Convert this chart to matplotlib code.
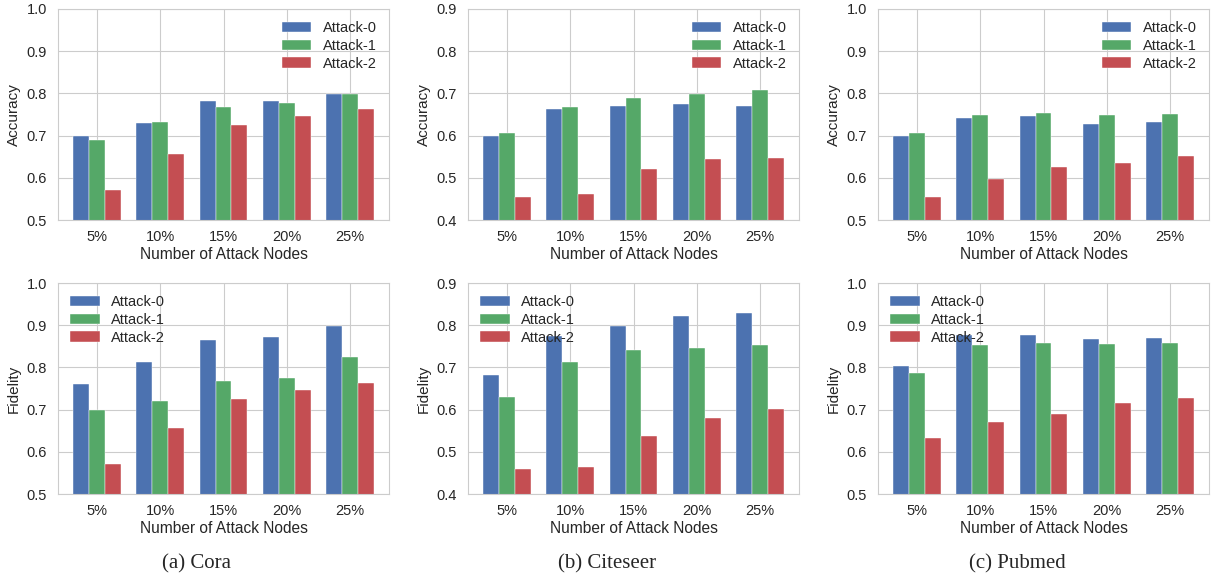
"""Accuracy / fidelity of the three attacks vs. number of attack nodes."""

import matplotlib

matplotlib.use("Agg")
import matplotlib.pyplot as plt
import numpy as np
import seaborn as sns

sns.set_style("whitegrid")
plt.rcParams["font.family"] = ["Liberation Sans", "DejaVu Sans"]

NODES = ["5%", "10%", "15%", "20%", "25%"]
ATTACKS = ["Attack-0", "Attack-1", "Attack-2"]
COLORS = ["#4C72B0", "#55A868", "#C44E52"]

cora_acc = [
    [0.700, 0.731, 0.781, 0.782, 0.799],
    [0.690, 0.733, 0.768, 0.777, 0.798],
    [0.571, 0.657, 0.724, 0.746, 0.762],
]
citeseer_acc = [
    [0.599, 0.663, 0.671, 0.674, 0.669],
    [0.606, 0.668, 0.688, 0.699, 0.707],
    [0.455, 0.461, 0.521, 0.545, 0.547],
]
pubmed_acc = [
    [0.700, 0.741, 0.746, 0.727, 0.732],
    [0.705, 0.749, 0.754, 0.748, 0.751],
    [0.554, 0.597, 0.626, 0.635, 0.652],
]
cora_fid = [
    [0.760, 0.813, 0.865, 0.873, 0.897],
    [0.698, 0.721, 0.768, 0.776, 0.825],
    [0.571, 0.657, 0.725, 0.747, 0.762],
]
citeseer_fid = [
    [0.683, 0.775, 0.799, 0.821, 0.829],
    [0.629, 0.713, 0.741, 0.747, 0.754],
    [0.460, 0.463, 0.537, 0.579, 0.602],
]
pubmed_fid = [
    [0.804, 0.876, 0.877, 0.867, 0.870],
    [0.787, 0.854, 0.858, 0.856, 0.857],
    [0.633, 0.671, 0.690, 0.716, 0.728],
]

# (data, ylabel, ylim, legend loc)
PANELS = [
    [(cora_acc, "Accuracy", (0.5, 1.0), "upper right"),
     (citeseer_acc, "Accuracy", (0.4, 0.9), "upper right"),
     (pubmed_acc, "Accuracy", (0.5, 1.0), "upper right")],
    [(cora_fid, "Fidelity", (0.5, 1.0), "upper left"),
     (citeseer_fid, "Fidelity", (0.4, 0.9), "upper left"),
     (pubmed_fid, "Fidelity", (0.5, 1.0), "upper left")],
]
CAPTIONS = ["(a) Cora", "(b) Citeseer", "(c) Pubmed"]

W, H = 1211, 580
LEFTS = [58, 468, 878]
AX_W = 331
TOPS = [9, 283]
AX_H = 211
INK = "#262626"

fig = plt.figure(figsize=(W / 100, H / 100), dpi=100)
x = np.arange(len(NODES))
width = 0.25

for r, row in enumerate(PANELS):
    for c, (data, ylabel, ylim, loc) in enumerate(row):
        ax = fig.add_axes([LEFTS[c] / W, 1 - (TOPS[r] + AX_H) / H, AX_W / W, AX_H / H])
        for i, (name, color) in enumerate(zip(ATTACKS, COLORS)):
            ax.bar(x + (i - 1) * width, data[i], width, color=color, label=name,
                   edgecolor="white", linewidth=0.3)
        ax.set_ylim(*ylim)
        ax.set_yticks(np.arange(ylim[0], ylim[1] + 0.001, 0.1))
        ax.set_xticks(x)
        ax.set_xticklabels(NODES)
        ax.tick_params(labelsize=10.5, colors=INK)
        ax.tick_params(axis="x", pad=4)
        ax.tick_params(axis="y", pad=4.5)
        ax.set_xlabel("Number of Attack Nodes", fontsize=11.2, color=INK, labelpad=2)
        ax.set_ylabel(ylabel, fontsize=11, color=INK, labelpad=4)
        for s in ax.spines.values():
            s.set_color("#cccccc")
        leg = ax.legend(loc=loc, frameon=False, fontsize=10.5, handlelength=2.0,
                        labelspacing=0.25, handletextpad=0.8, borderaxespad=0.45)
        for t in leg.get_texts():
            t.set_color(INK)

for c, cap in enumerate(CAPTIONS):
    fig.text((LEFTS[c] - 58 + 197) / W, 1 - 564 / H, cap, ha="center", va="center",
             fontsize=15, family=["Liberation Serif", "DejaVu Serif"])

fig.savefig("out.png", dpi=100, facecolor="white")
